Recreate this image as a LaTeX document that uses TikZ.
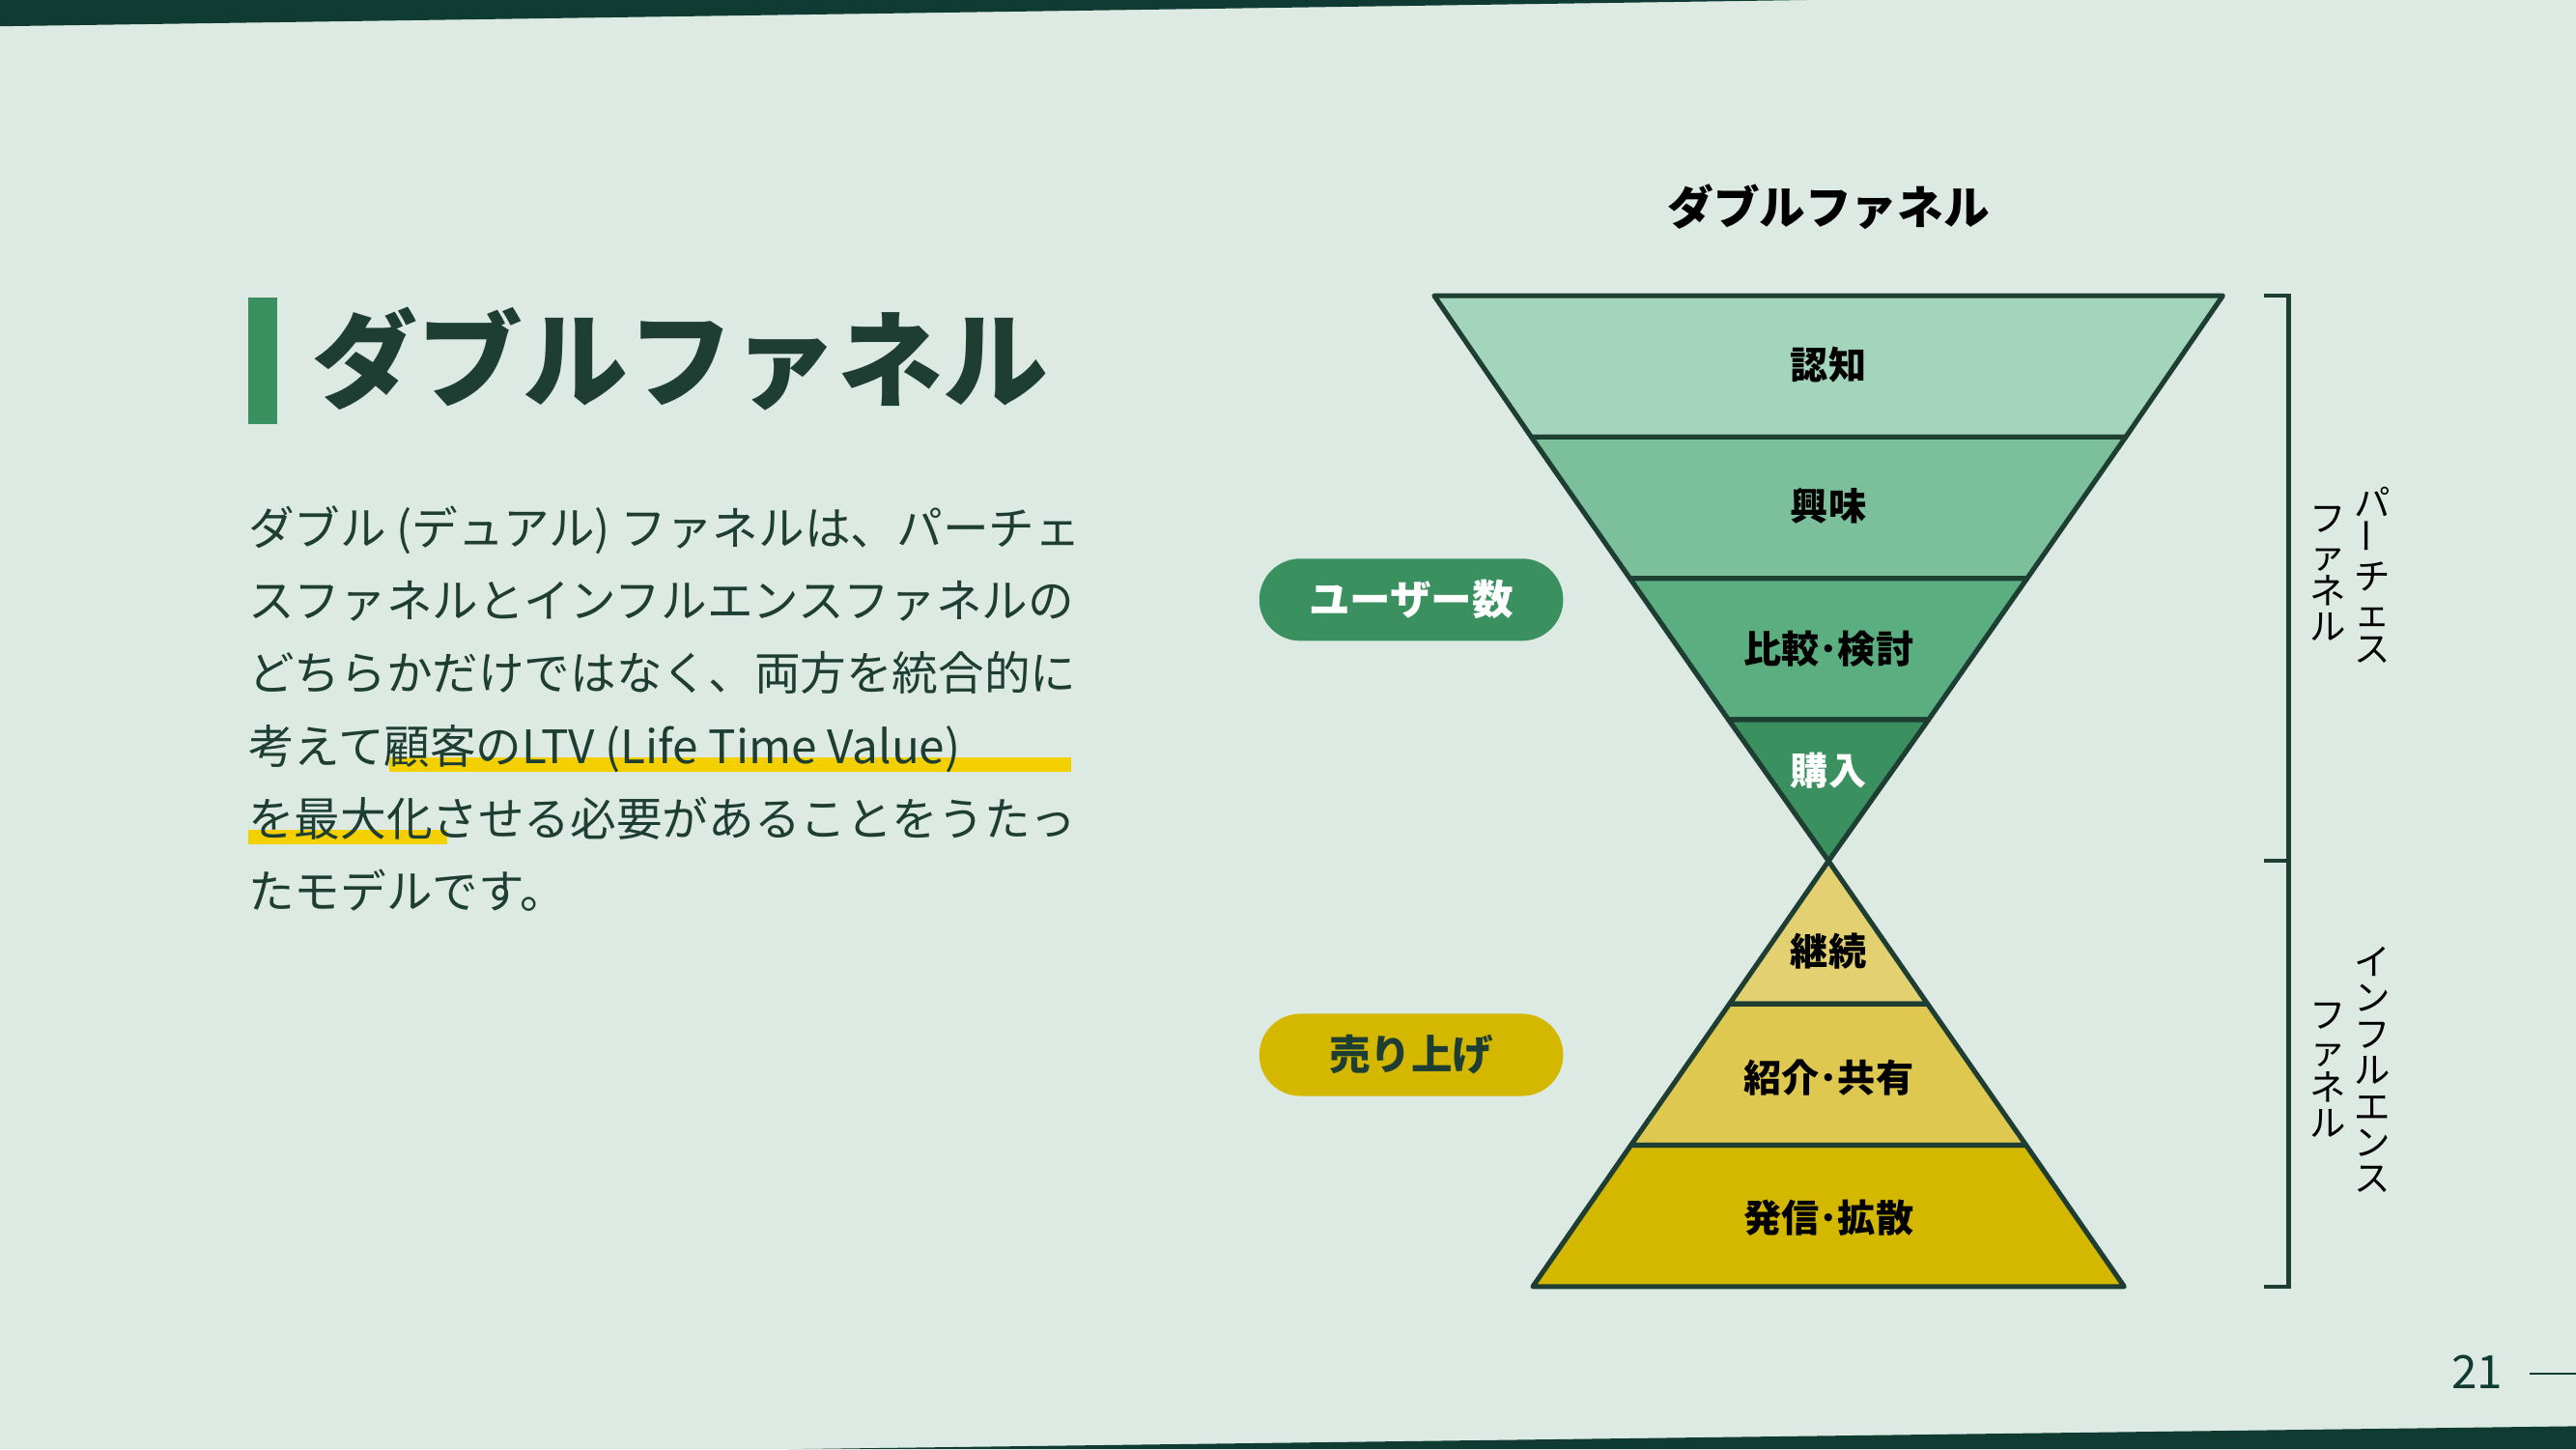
\documentclass[tikz,border=0pt]{standalone}
\usepackage{fontspec}
\setmainfont{Noto Sans CJK JP}
\definecolor{bg}{HTML}{DCEAE3}
\definecolor{dk}{HTML}{0F3B32}
\definecolor{ln}{HTML}{1E3D33}
\definecolor{gA}{HTML}{A3D4BC}
\definecolor{gB}{HTML}{7BBF9B}
\definecolor{gC}{HTML}{5AAE80}
\definecolor{gD}{HTML}{3A915F}
\definecolor{yA}{HTML}{E3D070}
\definecolor{yB}{HTML}{DEC850}
\definecolor{yC}{HTML}{D4B800}
\definecolor{hl}{HTML}{F5D000}
\tikzset{
 band/.style={draw=ln,line width=3pt,line join=round},
 lab/.style={font=\fontsize{23}{23}\selectfont\bfseries,text=black},
 para/.style={anchor=base west,font=\fontsize{28}{28}\selectfont,text=ln,inner sep=0},
 pill/.style={rounded corners=25pt,minimum width=185pt,minimum height=50pt,font=\fontsize{25}{25}\selectfont\bfseries},
 vt/.style={align=center,font=\fontsize{22}{22}\selectfont,text=black,anchor=north,inner sep=0}
}
\begin{document}
\begin{tikzpicture}[x=1pt,y=-1pt]
\fill[bg] (0,0) rectangle (1568,882);
\useasboundingbox (0,0) rectangle (1568,882);
\fill[dk] (0,0) -- (1100,0) -- (0,16) -- cycle;
\fill[dk] (480,882) -- (1568,868) -- (1568,882) -- cycle;
% title
\fill[gD] (151,181) rectangle (169,258);
\node[anchor=base west,inner sep=0,font=\fontsize{64}{64}\selectfont\bfseries,text=ln] (title) at (190,243) {ダブルファネル};
% highlights
\fill[hl] (237,461) rectangle (652,470);
\fill[hl] (151,505) rectangle (272,514);
\node[para] (p1) at (151,332) {ダブル (デュアル) ファネルは、パーチェ};
\node[para] (p2) at (151,376) {スファネルとインフルエンスファネルの};
\node[para] (p3) at (151,420) {どちらかだけではなく、両方を統合的に};
\node[para] (p4) at (151,465) {考えて顧客のLTV (Life Time Value)};
\node[para] (p5) at (151,509) {を最大化させる必要があることをうたっ};
\node[para] (p6) at (151,553) {たモデルです。};
% heading
\node[font=\fontsize{28}{28}\selectfont\bfseries,text=black] (head) at (1113,126) {ダブルファネル};
% top funnel
\coordinate (ap) at (1113,524);
\filldraw[band,fill=gA] (873,180) -- (1353,180) -- (1293.9,266) -- (932.1,266) -- cycle;
\filldraw[band,fill=gB] (932.1,266) -- (1293.9,266) -- (1233.9,352) -- (992.1,352) -- cycle;
\filldraw[band,fill=gC] (992.1,352) -- (1233.9,352) -- (1173.9,438) -- (1052.1,438) -- cycle;
\filldraw[band,fill=gD] (1052.1,438) -- (1173.9,438) -- (ap) -- cycle;
% bottom
\filldraw[band,fill=yA] (ap) -- (1173.3,611) -- (1052.7,611) -- cycle;
\filldraw[band,fill=yB] (1052.7,611) -- (1173.3,611) -- (1233.3,697) -- (992.7,697) -- cycle;
\filldraw[band,fill=yC] (992.7,697) -- (1233.3,697) -- (1293,783) -- (933,783) -- cycle;
\node[lab] (l1) at (1113,222) {認知};
\node[lab] (l2) at (1113,308) {興味};
\node[lab] (l3) at (1113,395) {比較･検討};
\node[lab,text=white] (l4) at (1113,469) {購入};
\node[lab] (l5) at (1113,579) {継続};
\node[lab] (l6) at (1113,656) {紹介･共有};
\node[lab] (l7) at (1113,741) {発信･拡散};
% pills
\node[pill,fill=gD,text=white] (u) at (859,365) {ユーザー数};
\node[pill,fill=yC,text=ln] (s) at (859,642) {売り上げ};
% bracket
\draw[ln,line width=2.5pt] (1378,180) -- (1393,180) -- (1393,783) -- (1378,783);
\draw[ln,line width=2.5pt] (1378,524) -- (1393,524);
\node[vt] (v1) at (1444,296) {パ\\\rotatebox{90}{ー}\\チ\\ェ\\ス};
\node[vt] (v2) at (1417,308) {フ\\ァ\\ネ\\ル};
\node[vt] (v3) at (1444,576) {イ\\ン\\フ\\ル\\エ\\ン\\ス};
\node[vt] (v4) at (1417,610) {フ\\ァ\\ネ\\ル};
% page number
\node[font=\fontsize{28}{28}\selectfont,text=dk] (pg) at (1508,835) {21};
\draw[dk,line width=1.5pt] (1540,836) -- (1568,836);
\end{tikzpicture}
\end{document}
